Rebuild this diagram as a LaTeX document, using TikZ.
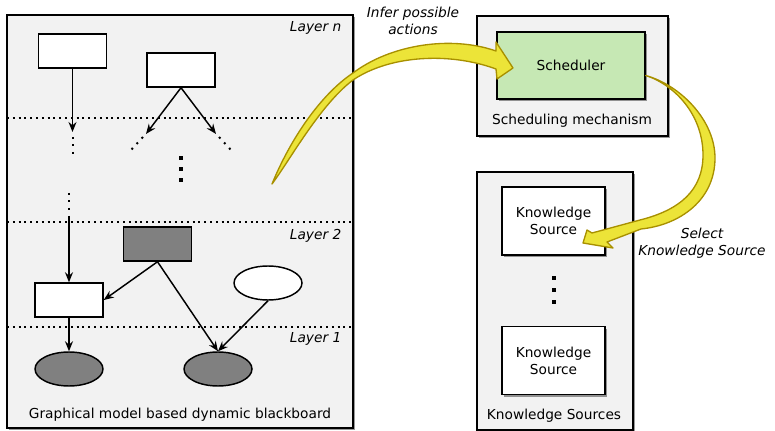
\documentclass[tikz,border=0pt]{standalone}
\usepackage{fontspec}
\setmainfont{DejaVu Sans}
\usepackage{tikz}
\usetikzlibrary{shapes.geometric, shadows, arrows.meta}

\definecolor{fondo}{HTML}{F2F2F2}
\definecolor{verde}{HTML}{C6E8B4}
\definecolor{amarillo}{HTML}{ECE438}
\definecolor{ocre}{HTML}{A89000}

\begin{document}
\begin{tikzpicture}[x=0.75pt, y=-0.75pt,
  font=\fontsize{10.3}{12.75}\selectfont,
  sombra/.style={drop shadow={shadow xshift=1.6pt, shadow yshift=-1.6pt, fill=black, opacity=0.4}},
  panel/.style={draw, line width=1.5pt, fill=fondo, sombra},
  caja/.style={draw, line width=1.1pt, fill=white, minimum width=51pt, minimum height=25.5pt, inner sep=0pt},
  elipse/.style={caja, ellipse},
  oscuro/.style={fill=gray},
  ks/.style={draw, line width=1.1pt, fill=white, minimum width=77pt, minimum height=51pt, align=center, sombra},
  capa/.style={anchor=east, font=\fontsize{10.3}{12.75}\selectfont\itshape},
  nota/.style={align=center, font=\fontsize{10.3}{12.75}\selectfont\itshape},
  flecha/.style={line width=1.1pt, -{Stealth[length=7.5pt, width=6pt, inset=2.5pt]}},
  separador/.style={line width=1.5pt, dash pattern=on 1.5pt off 2.85pt},
  puntitos/.style={line width=1.5pt, dash pattern=on 1.5pt off 4.1pt},
  grande/.style={fill=amarillo, draw=ocre, line width=1pt, line join=round}
]

\useasboundingbox (0,0) rectangle (775,431);

% Pizarra (modelo grafico)
\draw[panel] (7,15) rectangle (353,428);
\draw[separador] (7,118) -- (353,118);
\draw[separador] (7,222.5) -- (353,222.5);
\draw[separador] (7,327) -- (353,327);

\node[capa] (capan) at (346,28) {Layer n};
\node[capa] (capa2) at (346,236) {Layer 2};
\node[capa] (capa1) at (346,339) {Layer 1};
\node (pizarra) at (180,415) {Graphical model based dynamic blackboard};

% Capa n
\node[caja] (t1) at (72.5,51) {};
\node[caja] (t2) at (181,70) {};
\coordinate (baja) at (72.5,132);
\coordinate (izq) at (146,134);
\coordinate (der) at (216,134);
\draw[flecha] (t1.south) -- (baja);
\draw[flecha] (t2.south) -- (izq);
\draw[flecha] (t2.south) -- (der);
\draw[puntitos] (72.5,137) -- (72.5,155);
\draw[puntitos] (143,137) -- (131,150);
\draw[puntitos] (219,137) -- (231,150);
\foreach \y in {158,169,180}
  \fill (179,\y-2) rectangle (183,\y+2);
\draw[puntitos] (69,193) -- (69,211);

% Capa 2
\node[caja, oscuro] (g1) at (157.5,244) {};
\node[caja] (w2) at (69,300) {};
\node[elipse] (e1) at (268,283) {};
\coordinate (sube) at (69,216);
\draw[flecha] (sube) -- (w2.north);

% Capa 1
\node[elipse, oscuro] (e2) at (69,369) {};
\node[elipse, oscuro] (e3) at (218,369) {};
\draw[flecha] (g1.south) -- (w2.east);
\draw[flecha] (g1.south) -- (e3.north);
\draw[flecha] (e1.south) -- (e3.north);
\draw[flecha] (w2.south) -- (e2.north);

% Planificador
\draw[panel] (477,16) rectangle (668,136);
\node[draw, line width=1.1pt, fill=verde, minimum width=111pt, minimum height=50pt, sombra] (sched) at (571,65.5) {Scheduler};
\node (mecanismo) at (572,121) {Scheduling mechanism};

% Fuentes de conocimiento
\draw[panel] (477,172) rectangle (633,429.5);
\node[ks] (ks1) at (553.5,221) {Knowledge\\Source};
\node[ks] (ks2) at (553.5,360.5) {Knowledge\\Source};
\foreach \y in {278,290,302}
  \fill (552,\y-2) rectangle (556,\y+2);
\node (fuentes) at (554,416) {Knowledge Sources};

% Flecha: inferir acciones
\coordinate (cola1) at (272,184);
\filldraw[grande] (cola1) .. controls (290,140) and (320,95) .. (353,73)
  .. controls (390,45) and (450,35) .. (496,51)
  -- (496,42) -- (513,68) -- (497,79) -- (496,69)
  .. controls (450,52) and (390,55) .. (353,80)
  .. controls (320,105) and (290,160) .. (cola1) -- cycle;
\node[nota] (inferir) at (413,20.5) {Infer possible\\actions};

% Flecha: seleccionar fuente
\coordinate (cola2) at (sched.east |- 0,75.5);
\filldraw[grande] (cola2) .. controls (680,85) and (715,120) .. (715,158)
  .. controls (715,200) and (680,225) .. (641,229)
  -- (607,242) -- (613,248) -- (583,243) -- (587,230) -- (592,233)
  -- (640,220) .. controls (680,210) and (703,190) .. (703,155)
  .. controls (703,115) and (675,85) .. (cola2) -- cycle;
\node[nota] (elegir) at (702,243) {Select\\Knowledge Source};

\end{tikzpicture}
\end{document}
